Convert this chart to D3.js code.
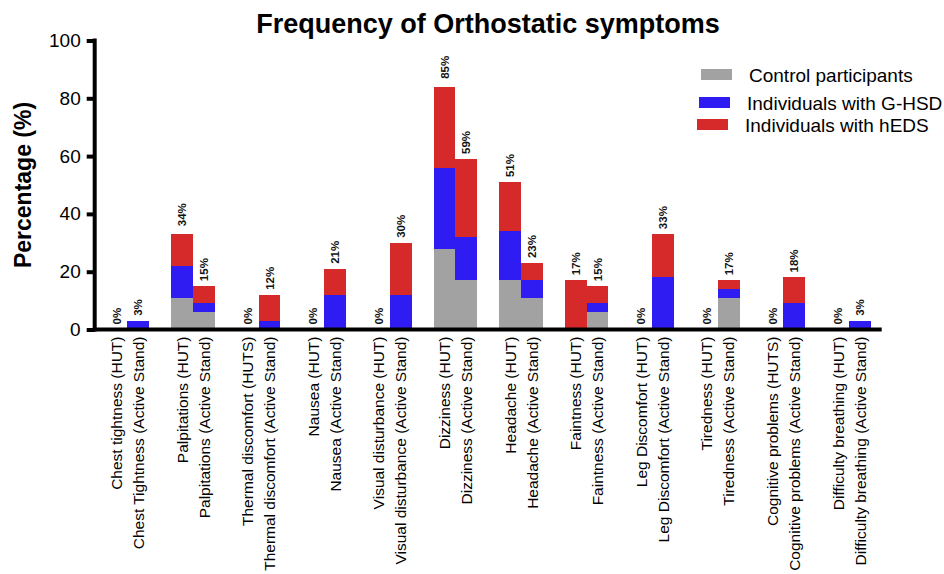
<!DOCTYPE html>
<html>
<head>
<meta charset="utf-8">
<script src="https://cdn.jsdelivr.net/npm/d3@7"></script>
<style>
  body { margin: 0; background: #fff; }
  svg { font-family: "Liberation Sans", Arial, sans-serif; }
</style>
</head>
<body>
<div class="chart"></div>
<script>
// 24 bars, two per symptom (HUT, Active Stand)
const categories = [
  "Chest tightness (HUT)", "Chest Tightness (Active Stand)",
  "Palpitations (HUT)", "Palpitations (Active Stand)",
  "Thermal discomfort (HUTS)", "Thermal discomfort (Active Stand)",
  "Nausea (HUT)", "Nausea (Active Stand)",
  "Visual disturbance (HUT)", "Visual disturbance (Active Stand)",
  "Dizziness (HUT)", "Dizziness (Active Stand)",
  "Headache (HUT)", "Headache (Active Stand)",
  "Faintness (HUT)", "Faintness (Active Stand)",
  "Leg Discomfort (HUT)", "Leg Discomfort (Active Stand)",
  "Tiredness (HUT)", "Tiredness (Active Stand)",
  "Cognitive problems (HUTS)", "Cognitive problems (Active Stand)",
  "Difficulty breathing (HUT)", "Difficulty breathing (Active Stand)"
];

// stacked segment heights (%)
const controlVals = [0, 0, 11, 6, 0, 0, 0, 0, 0, 0, 28, 17, 17, 11, 0, 6, 0, 0, 0, 11, 0, 0, 0, 0];
const ghsdVals    = [0, 3, 11, 3, 0, 3, 0, 12, 0, 12, 28, 15, 17, 6, 0, 3, 0, 18, 0, 3, 0, 9, 0, 3];
const hedsVals    = [0, 0, 11, 6, 0, 9, 0, 9, 0, 18, 28, 27, 17, 6, 17, 6, 0, 15, 0, 3, 0, 9, 0, 0];

// percentages printed above the bars
const pctLabels = [0, 3, 34, 15, 0, 12, 0, 21, 0, 30, 85, 59, 51, 23, 17, 15, 0, 33, 0, 17, 0, 18, 0, 3];

const seriesKeys = ["control", "ghsd", "heds"];
const seriesNames = ["Control participants", "Individuals with G-HSD", "Individuals with hEDS"];
const seriesColors = ["#a2a2a2", "#2e1cf2", "#d62a2a"];
const yTicks = [0, 20, 40, 60, 80, 100];

const svgWidth = 944, svgHeight = 574;
const axisX = 94.7, axisY = 329.5, axisTop = 40.5, axisRight = 881.7;

const svg = d3.select(".chart").append("svg")
  .attr("width", svgWidth)
  .attr("height", svgHeight);

// build table for d3.stack
const table = categories.map((c, i) => ({
  cat: c, idx: i,
  control: controlVals[i], ghsd: ghsdVals[i], heds: hedsVals[i]
}));
const stacked = d3.stack().keys(seriesKeys)(table);

// scales: groups of two bars
const groups = d3.range(categories.length / 2);
const xGroup = d3.scaleBand()
  .domain(groups)
  .range([axisX, axisRight])
  .paddingInner(1 / 3)
  .paddingOuter(0.165);
const xSub = d3.scaleBand()
  .domain([0, 1])
  .range([0, xGroup.bandwidth()]);
const xPos = i => xGroup(Math.floor(i / 2)) + xSub(i % 2);
const barW = xSub.bandwidth();

const yScale = d3.scaleLinear().domain([0, 100]).range([axisY, axisTop]);

// bars
svg.append("g").selectAll("g")
  .data(stacked)
  .join("g")
  .attr("fill", (d, i) => seriesColors[i])
  .selectAll("rect")
  .data(d => d)
  .join("rect")
  .attr("x", d => xPos(d.data.idx))
  .attr("y", d => yScale(d[1]))
  .attr("width", barW)
  .attr("height", d => yScale(d[0]) - yScale(d[1]))
  .attr("shape-rendering", "crispEdges");

// percentage labels
svg.append("g").selectAll("text")
  .data(pctLabels)
  .join("text")
  .attr("transform", (d, i) => `translate(${xPos(i) + barW / 2}, ${yScale(d) - 5}) rotate(-90)`)
  .attr("dy", "0.36em")
  .attr("font-size", 11.5)
  .attr("font-weight", "bold")
  .attr("fill", "#111")
  .text(d => d + "%");

// y axis
const leftAxis = d3.axisLeft(yScale).tickValues(yTicks).tickSize(8).tickPadding(6);
const yAxis = svg.append("g")
  .attr("transform", `translate(${axisX}, 0)`)
  .call(leftAxis);
yAxis.select(".domain").remove();
yAxis.selectAll(".tick line").attr("stroke", "#000").attr("stroke-width", 4);
yAxis.selectAll(".tick text")
  .attr("font-size", 19)
  .attr("font-family", "'Liberation Sans', Arial, sans-serif")
  .attr("fill", "#000");
yAxis.append("line")
  .attr("x1", 0).attr("x2", 0)
  .attr("y1", axisTop - 2).attr("y2", axisY + 2)
  .attr("stroke", "#000").attr("stroke-width", 4);

// x axis
const xAxisG = svg.append("g");
xAxisG.append("line")
  .attr("x1", axisX - 2).attr("x2", axisRight)
  .attr("y1", axisY).attr("y2", axisY)
  .attr("stroke", "#000").attr("stroke-width", 4);
xAxisG.selectAll("text")
  .data(categories)
  .join("text")
  .attr("transform", (d, i) => `translate(${xPos(i) + barW / 2}, ${axisY + 7}) rotate(-90)`)
  .attr("text-anchor", "end")
  .attr("dy", "0.36em")
  .attr("font-size", 15.5)
  .attr("fill", "#000")
  .text(d => d);

// y axis title
svg.append("text")
  .attr("transform", `translate(31, ${(axisY + axisTop) / 2}) rotate(-90)`)
  .attr("text-anchor", "middle")
  .attr("font-size", 23)
  .attr("font-weight", "bold")
  .text("Percentage (%)");

// title
svg.append("text")
  .attr("x", 488)
  .attr("y", 33)
  .attr("text-anchor", "middle")
  .attr("font-size", 27)
  .attr("font-weight", "bold")
  .text("Frequency of Orthostatic symptoms");

// legend (rows are slightly offset as in the original)
const legendRows = [{x: 701, y: 69}, {x: 699, y: 97}, {x: 697, y: 119}];
const legend = svg.append("g").selectAll("g")
  .data(seriesNames)
  .join("g")
  .attr("transform", (d, i) => `translate(${legendRows[i].x}, ${legendRows[i].y})`);
legend.append("rect")
  .attr("width", 31)
  .attr("height", 11)
  .attr("fill", (d, i) => seriesColors[i]);
legend.append("text")
  .attr("x", 48)
  .attr("y", 12.5)
  .attr("font-size", 19)
  .text(d => d);
</script>
</body>
</html>
